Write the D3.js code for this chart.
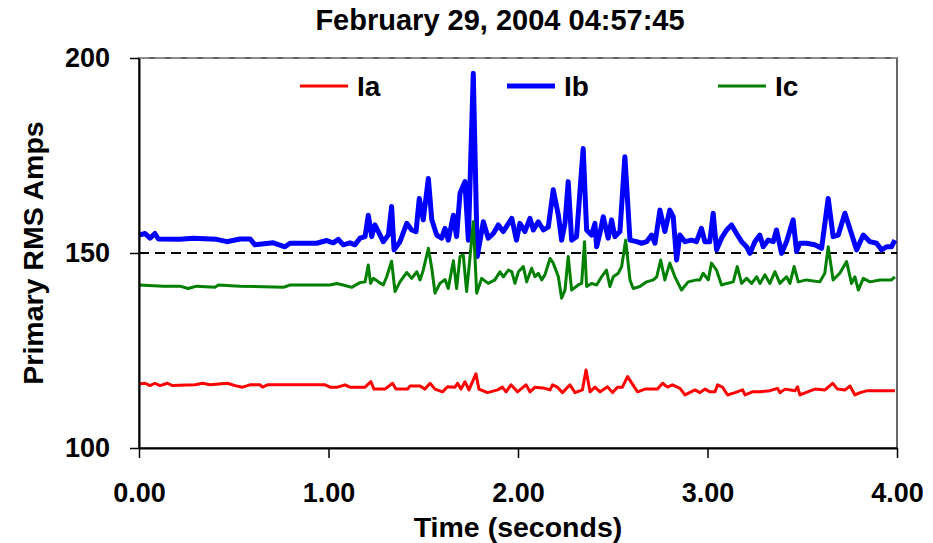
<!DOCTYPE html>
<html>
<head>
<meta charset="utf-8">
<script src="https://cdn.jsdelivr.net/npm/d3@7"></script>
<style>
  body { margin: 0; background: #fff; }
  text { font-family: "Liberation Sans", Arial, sans-serif; font-weight: bold; fill: #000; }
</style>
</head>
<body>
<div id="chart"></div>
<script>
// Primary RMS currents, one [seconds, amps] pair per vertex.

const title = "February 29, 2004 04:57:45";
const yTicks = [100, 150, 200];
const xTicks = [0, 1, 2, 3, 4];
const limitAmps = 150;

const ia = [
  [0,116.4],[0.032,116.6],[0.058,116.0],[0.084,116.6],[0.111,116.0],[0.150,116.6],[0.177,116.0],
  [0.296,116.2],[0.335,116.6],[0.375,116.2],[0.467,116.6],[0.507,116.0],[0.546,115.6],[0.586,116.2],
  [0.639,116.2],[0.652,115.6],[0.678,116.2],[0.982,116.2],[1.008,115.6],[1.047,115.6],[1.087,116.2],
  [1.113,115.6],[1.193,115.6],[1.224,117.0],[1.240,115.1],[1.298,115.1],[1.338,116.6],[1.356,115.1],
  [1.417,115.1],[1.430,115.9],[1.483,115.9],[1.509,115.1],[1.536,116.6],[1.562,115.1],[1.602,114.4],
  [1.628,115.7],[1.668,115.6],[1.681,116.6],[1.699,115.1],[1.720,117.0],[1.741,114.9],[1.778,119.0],
  [1.794,115.1],[1.839,114.2],[1.892,114.9],[1.918,115.6],[1.937,114.4],[1.963,116.2],[1.997,114.4],
  [2.042,116.2],[2.063,114.4],[2.090,115.6],[2.142,115.3],[2.169,114.9],[2.182,116.2],[2.208,115.6],
  [2.235,114.2],[2.274,116.2],[2.301,114.2],[2.340,114.9],[2.359,120.0],[2.380,114.4],[2.406,115.6],
  [2.433,114.4],[2.472,115.7],[2.499,114.2],[2.525,115.6],[2.551,115.6],[2.578,118.3],[2.631,114.4],
  [2.670,115.1],[2.736,115.1],[2.763,116.6],[2.789,115.6],[2.815,116.2],[2.855,115.3],[2.881,113.6],
  [2.934,114.9],[2.960,114.2],[2.987,115.1],[3.013,114.4],[3.040,114.4],[3.053,116.2],[3.079,115.6],
  [3.106,113.6],[3.145,114.2],[3.185,114.9],[3.198,113.6],[3.237,114.4],[3.277,114.4],[3.330,114.7],
  [3.369,115.3],[3.383,114.2],[3.409,115.1],[3.462,114.7],[3.475,115.7],[3.488,113.6],[3.528,114.4],
  [3.567,115.1],[3.620,114.9],[3.660,116.6],[3.686,115.1],[3.726,114.9],[3.752,115.9],[3.778,113.6],
  [3.805,114.2],[3.844,114.7],[3.989,114.7]
];

const ib = [
  [0,154.6],[0.032,155.0],[0.058,153.8],[0.084,155.0],[0.102,153.6],[0.216,153.5],[0.287,153.8],
  [0.410,153.5],[0.463,152.9],[0.533,153.6],[0.586,153.6],[0.612,152.1],[0.709,152.6],[0.770,151.6],
  [0.797,152.5],[0.938,152.5],[0.990,153.2],[1.025,152.6],[1.052,153.5],[1.078,152.1],[1.113,152.6],
  [1.140,152.1],[1.166,153.8],[1.193,154.2],[1.210,159.7],[1.228,154.2],[1.245,157.2],[1.263,155.5],
  [1.289,152.9],[1.316,154.6],[1.333,161.9],[1.346,150.8],[1.377,152.9],[1.413,157.6],[1.439,155.9],
  [1.462,155.5],[1.479,164.0],[1.500,158.5],[1.527,169.1],[1.545,158.5],[1.571,154.6],[1.597,153.8],
  [1.615,156.3],[1.632,153.3],[1.659,159.7],[1.676,154.2],[1.694,165.3],[1.720,168.3],[1.738,153.3],
  [1.764,196.1],[1.785,149.1],[1.817,158.0],[1.843,153.8],[1.870,155.0],[1.896,157.2],[1.922,155.5],
  [1.967,158.9],[1.992,153.3],[2.010,157.6],[2.036,155.5],[2.063,158.9],[2.081,155.9],[2.107,158.0],
  [2.134,155.9],[2.160,156.7],[2.186,166.2],[2.213,159.7],[2.230,153.3],[2.248,157.6],[2.265,168.3],
  [2.283,153.3],[2.309,154.2],[2.344,176.8],[2.362,155.9],[2.388,154.6],[2.406,157.6],[2.415,151.6],
  [2.432,155.0],[2.450,159.3],[2.476,153.8],[2.494,158.5],[2.511,154.2],[2.538,155.5],[2.564,174.7],
  [2.591,153.3],[2.626,152.9],[2.652,152.5],[2.679,152.9],[2.705,154.6],[2.723,152.5],[2.749,161.0],
  [2.775,155.5],[2.801,161.0],[2.819,159.3],[2.837,148.2],[2.854,154.6],[2.881,152.9],[2.916,153.3],
  [2.942,152.9],[2.968,156.3],[2.986,152.9],[3.012,152.9],[3.030,160.2],[3.048,150.8],[3.074,153.8],
  [3.101,155.9],[3.127,157.2],[3.153,155.0],[3.180,152.9],[3.206,151.6],[3.224,149.9],[3.250,152.9],
  [3.276,154.6],[3.294,151.6],[3.320,153.3],[3.347,152.9],[3.364,155.9],[3.391,149.9],[3.417,152.9],
  [3.452,158.5],[3.470,150.4],[3.487,152.5],[3.522,152.5],[3.566,152.1],[3.602,151.2],[3.637,164.0],
  [3.663,154.2],[3.690,154.6],[3.725,160.2],[3.751,156.3],[3.787,150.8],[3.822,154.6],[3.857,152.9],
  [3.892,152.5],[3.919,150.8],[3.945,151.6],[3.971,151.6],[3.989,153.3]
];

const ic = [
  [0,141.8],[0.128,141.5],[0.216,141.5],[0.260,140.9],[0.304,141.5],[0.401,141.2],[0.419,141.8],
  [0.533,141.5],[0.762,141.2],[0.797,141.8],[1.008,141.8],[1.043,142.2],[1.078,141.8],[1.122,141.2],
  [1.166,142.4],[1.193,142.6],[1.210,146.9],[1.222,142.2],[1.236,143.5],[1.263,142.6],[1.289,141.8],
  [1.307,143.9],[1.333,147.9],[1.351,140.1],[1.377,142.6],[1.413,145.0],[1.439,143.5],[1.466,145.2],
  [1.483,143.1],[1.500,145.6],[1.527,151.2],[1.545,146.1],[1.562,139.7],[1.588,142.2],[1.615,143.2],
  [1.632,140.9],[1.659,148.0],[1.676,140.9],[1.694,149.1],[1.711,149.5],[1.729,140.1],[1.747,149.1],
  [1.764,158.0],[1.782,139.7],[1.808,143.5],[1.843,142.2],[1.878,143.1],[1.905,145.2],[1.923,143.9],
  [1.949,145.6],[1.967,145.2],[1.984,142.2],[2.002,145.2],[2.028,146.5],[2.046,142.6],[2.072,146.1],
  [2.090,143.9],[2.107,144.8],[2.125,143.1],[2.142,144.4],[2.169,148.6],[2.186,147.4],[2.213,143.9],
  [2.230,138.4],[2.248,140.5],[2.265,149.1],[2.283,140.5],[2.318,141.8],[2.336,142.2],[2.351,152.9],
  [2.362,141.4],[2.388,142.2],[2.415,141.8],[2.441,143.9],[2.467,145.6],[2.485,141.4],[2.503,143.9],
  [2.529,144.8],[2.547,146.5],[2.568,153.3],[2.591,143.1],[2.608,140.9],[2.643,141.4],[2.679,142.6],
  [2.714,143.1],[2.732,143.9],[2.753,148.2],[2.775,143.1],[2.801,147.4],[2.828,143.9],[2.863,140.5],
  [2.898,142.6],[2.942,143.1],[2.960,143.1],[2.977,144.8],[3.004,143.1],[3.021,147.4],[3.048,145.6],
  [3.074,141.8],[3.101,142.2],[3.136,142.6],[3.157,146.5],[3.180,142.2],[3.206,143.5],[3.233,142.2],
  [3.259,143.9],[3.277,142.2],[3.303,144.4],[3.329,142.2],[3.356,145.2],[3.382,142.2],[3.400,143.1],
  [3.417,143.9],[3.435,142.2],[3.457,146.5],[3.479,142.6],[3.522,143.1],[3.593,142.6],[3.619,144.8],
  [3.637,151.6],[3.663,143.1],[3.698,144.8],[3.734,147.8],[3.760,142.2],[3.778,143.9],[3.796,140.5],
  [3.822,143.5],[3.857,142.6],[3.910,143.1],[3.971,143.1],[3.989,143.9]
];

const seriesNames = ["Ia", "Ib", "Ic"];
const seriesColors = ["#ff0000", "#0000ff", "#008000"];
const seriesWidths = [3, 5, 3];

const width = 933;
const height = 543;
const margin = { top: 58, right: 36, bottom: 95, left: 139 };
const plotW = width - margin.left - margin.right;
const plotH = height - margin.top - margin.bottom;

const x = d3.scaleLinear().domain([0, 4]).range([0, plotW]);
const y = d3.scaleLinear().domain([100, 200]).range([plotH, 0]);

const svg = d3.select("#chart").append("svg")
    .attr("width", width)
    .attr("height", height);

svg.append("text")
    .attr("x", 500).attr("y", 30)
    .attr("text-anchor", "middle")
    .style("font-size", "29px")
    .text(title);

const g = svg.append("g").attr("transform", `translate(${margin.left},${margin.top})`);

// frame
g.append("rect")
    .attr("width", plotW).attr("height", plotH)
    .attr("fill", "none").attr("stroke", "#333").attr("stroke-width", 1.5);

// dashed reference lines
g.selectAll(".ref").data([limitAmps, 200]).join("line")
    .attr("x1", 0).attr("x2", plotW)
    .attr("y1", d => y(d)).attr("y2", d => y(d))
    .attr("stroke", (d, i) => i ? "#999" : "#000")
    .attr("stroke-width", (d, i) => i ? 1.5 : 2)
    .attr("stroke-dasharray", "10,6");

// series
const line = d3.line().x(d => x(d[0])).y(d => y(d[1]));
[ia, ib, ic].forEach((data, i) => {
  g.append("path")
      .datum(data)
      .attr("fill", "none")
      .attr("stroke", seriesColors[i])
      .attr("stroke-width", seriesWidths[i])
      .attr("stroke-linejoin", "round")
      .attr("d", line);
});

// axes
const yAxis = g.append("g")
    .call(d3.axisLeft(y).tickValues(yTicks).tickFormat(d3.format("d")).tickSize(9).tickSizeOuter(0).tickPadding(20));
const xAxis = g.append("g")
    .attr("transform", `translate(0,${plotH})`)
    .call(d3.axisBottom(x).tickValues(xTicks).tickFormat(d3.format(".2f")).tickSize(10).tickSizeOuter(0).tickPadding(25));

[yAxis, xAxis].forEach(ax => {
  ax.select(".domain").attr("stroke", "#000").attr("stroke-width", 2);
  ax.selectAll(".tick line").attr("stroke", "#000").attr("stroke-width", 1.5);
  ax.selectAll("text")
      .style("font-family", "'Liberation Sans', Arial, sans-serif")
      .style("font-weight", "bold")
      .style("font-size", "27px")
      .attr("fill", "#000");
});

// axis titles
svg.append("text")
    .attr("transform", "translate(43,253) rotate(-90)")
    .attr("text-anchor", "middle")
    .style("font-size", "28.5px")
    .text("Primary RMS Amps");

svg.append("text")
    .attr("x", margin.left + plotW / 2).attr("y", 537)
    .attr("text-anchor", "middle")
    .style("font-size", "28.5px")
    .text("Time (seconds)");

// legend
const legendX = [300, 507, 718];
const legend = g.selectAll(".legend").data(seriesNames).join("g")
    .attr("transform", (d, i) => `translate(${legendX[i] - margin.left},${86 - margin.top})`);
legend.append("line")
    .attr("x1", 0).attr("x2", 48)
    .attr("stroke", (d, i) => seriesColors[i])
    .attr("stroke-width", (d, i) => seriesWidths[i]);
legend.append("text")
    .attr("x", 57).attr("y", 10)
    .style("font-size", "28px")
    .text(d => d);
</script>
</body>
</html>
